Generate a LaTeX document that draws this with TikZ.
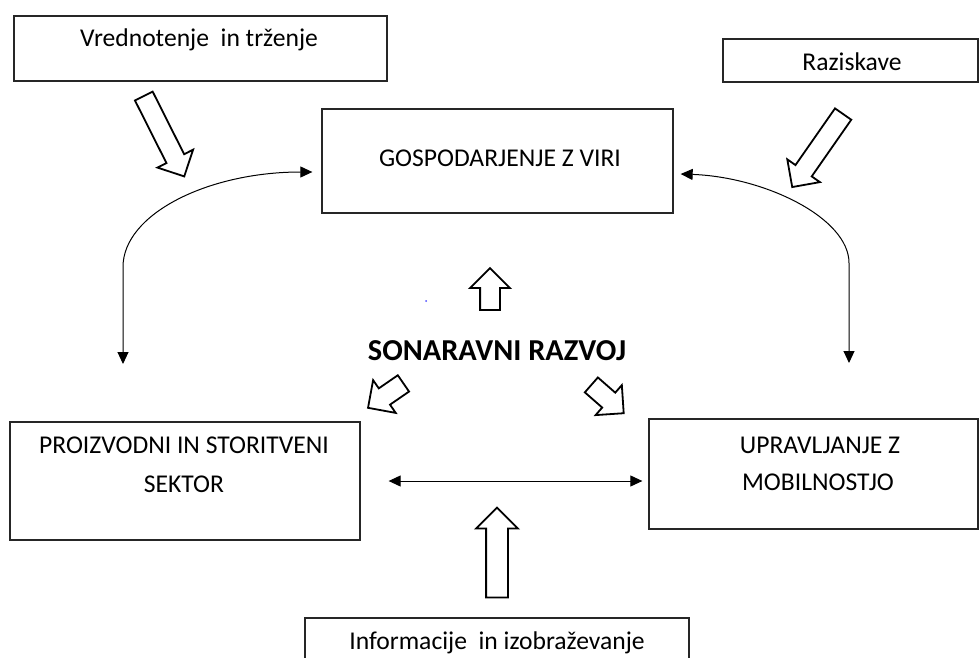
\documentclass[tikz,border=0pt]{standalone}
\usepackage{fontspec}
\setmainfont{Carlito}
\usetikzlibrary{shapes.arrows,arrows.meta}

\tikzset{
  boxnode/.style={draw=black!85,line width=1.3pt,rectangle,inner sep=0pt},
  lbl/.style={anchor=base,inner sep=0pt,font=\fontsize{25.6}{30}\selectfont},
  title/.style={anchor=base,inner sep=0pt,font=\fontsize{30.4}{35}\selectfont\bfseries},
  blockarr/.style={draw,line width=1.8pt,single arrow,single arrow head extend=10pt,
    inner xsep=0pt,inner ysep=9pt,minimum width=0pt},
  link/.style={line width=1pt,{Triangle[length=12pt,width=11pt]}-{Triangle[length=12pt,width=11pt]}}
}

\begin{document}
\begin{tikzpicture}[x=1pt,y=-1pt]
 \fill[white] (0,0) rectangle (979,658);
 \useasboundingbox (0,0) rectangle (979,658);
 \clip (0,0) rectangle (979,658);

 % boxes
 \node[boxnode,minimum width=373pt,minimum height=65pt] (vredn) at (200.5,48.5) {};
 \node[boxnode,minimum width=255pt,minimum height=43pt] (razisk) at (850.5,60.5) {};
 \node[boxnode,minimum width=351pt,minimum height=104pt] (gosp) at (497.5,161) {};
 \node[boxnode,minimum width=350pt,minimum height=118pt] (proizv) at (185,481) {};
 \node[boxnode,minimum width=329pt,minimum height=110pt] (upravl) at (813.5,474) {};
 \node[boxnode,minimum width=384pt,minimum height=60pt] (inform) at (497,648) {};

 % texts
 \node[lbl] (vrednT) at (199,47) {Vrednotenje~ in trženje};
 \node[lbl] (raziskT) at (852,71) {Raziskave};
 \node[lbl] (gospT) at (500,166) {GOSPODARJENJE Z VIRI};
 \node[lbl] (proizvT) at (184,453) {PROIZVODNI IN STORITVENI};
 \node[lbl] (proizvT2) at (184,492) {SEKTOR};
 \node[lbl] (upravlT) at (820,453) {UPRAVLJANJE Z};
 \node[lbl] (upravlT2) at (818,490) {MOBILNOSTJO};
 \node[lbl] (informT) at (497,649) {Informacije~ in izobraževanje};
 \node[title] (razvoj) at (497,360) {SONARAVNI RAZVOJ};

 % block arrows
 \node[blockarr,minimum height=90pt,rotate=-63.3] (inVredn) at (161.8,131.8) {};
 \node[blockarr,minimum height=89pt,rotate=-124.9] (inRazisk) at (820.5,146.5) {};
 \node[blockarr,minimum height=42pt,rotate=90] (outUp) at (490,294) {};
 \node[blockarr,minimum height=43pt,rotate=-145.4] (outLeft) at (389.8,392.8) {};
 \node[blockarr,minimum height=43pt,rotate=-41.2] (outRight) at (603.8,395.8) {};
 \node[blockarr,minimum height=90pt,rotate=90,inner ysep=10pt] (inInform) at (497,558) {};

 % connectors
 \coordinate (ltip) at (123,364);
 \coordinate (rtip) at (849,363);
 \draw[link] (ltip) -- (123,267) .. controls (123,214) and (208,172) .. ([xshift=-9pt,yshift=-11pt]gosp.west);
 \draw[link] (rtip) -- (849,263) .. controls (849,218) and (765,177) .. ([xshift=7pt,yshift=-13pt]gosp.east);
 \draw[link,shorten <=28pt,shorten >=6pt] (proizv.east) -- (upravl.west |- proizv.east);

 \fill[blue!70] (426,301) circle (1pt);
\end{tikzpicture}
\end{document}
